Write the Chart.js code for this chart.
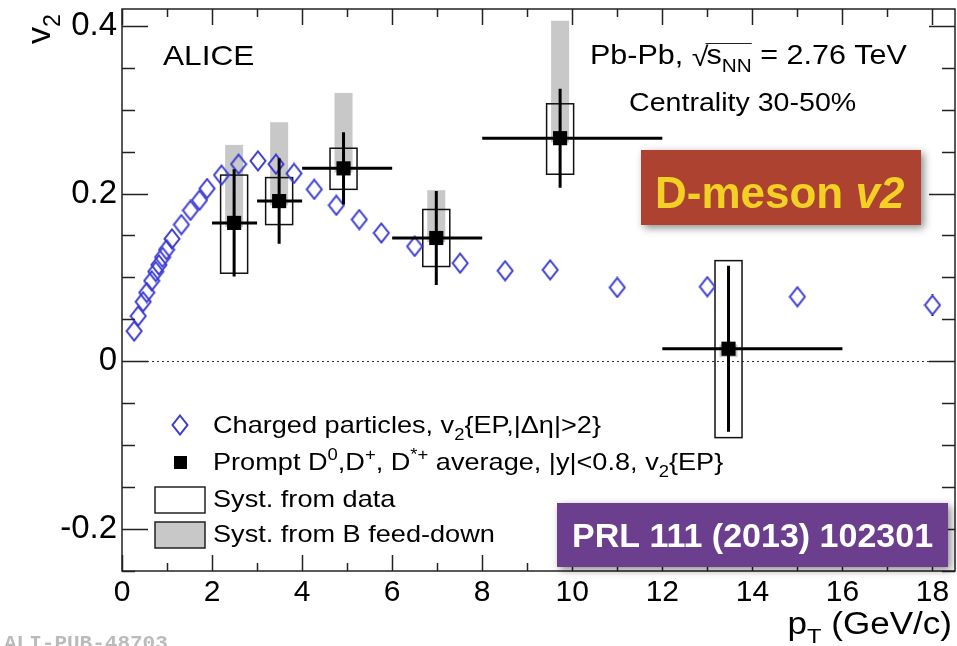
<!DOCTYPE html>
<html>
<head>
<meta charset="utf-8">
<script src="https://cdn.jsdelivr.net/npm/chart.js@4"></script>
<style>
  html, body { margin: 0; padding: 0; background: #fff; }
  #contenedor { width: 957px; height: 646px; position: relative; }
</style>
</head>
<body>
<div id="contenedor"><canvas id="grafica"></canvas></div>
<script>
// Particulas cargadas, v2{EP,|Δη|>2}
const chPt = [0.27, 0.36, 0.47, 0.55, 0.66, 0.75, 0.82, 0.90, 0.99, 1.11, 1.32, 1.52, 1.72, 1.89, 2.21, 2.59,
              3.02, 3.42, 3.82, 4.27, 4.76, 5.27, 5.76, 6.50, 7.51, 8.51, 9.51, 11.0, 13.0, 15.0, 18.0];
const chV2 = [0.036, 0.054, 0.071, 0.082, 0.096, 0.107, 0.115, 0.124, 0.133, 0.146, 0.163, 0.180, 0.192, 0.206, 0.222, 0.235,
              0.239, 0.235, 0.224, 0.205, 0.186, 0.169, 0.153, 0.137, 0.117, 0.108, 0.109, 0.088, 0.089, 0.077, 0.067];
const chErr = [0, 0, 0, 0, 0, 0, 0, 0, 0, 0, 0, 0, 0, 0, 0, 0,
               0, 0, 0, 0, 0, 0, 0, 0, 0, 0, 0, 0, 0.004, 0.011, 0.013];

// Mesones D promedio (D0, D+, D*+)
const dPt     = [2.49, 3.49, 4.92, 6.98, 9.73, 13.47];
const dPtMin  = [2, 3, 4, 6, 8, 12];
const dPtMax  = [3, 4, 6, 8, 12, 16];
const dV2     = [0.165, 0.191, 0.230, 0.147, 0.266, 0.015];
const dStat   = [0.064, 0.051, 0.043, 0.056, 0.059, 0.099];
const dSistArriba = [0.057, 0.028, 0.024, 0.034, 0.041, 0.105];
const dSistAbajo  = [0.060, 0.028, 0.025, 0.034, 0.043, 0.106];
const dFeedArriba = [0.093, 0.094, 0.090, 0.057, 0.140, 0.005];
const dFeedAbajo  = [0.005, 0.005, 0.005, 0.005, 0.005, 0.010];

// Ejes
const ejeXTicks = [0, 2, 4, 6, 8, 10, 12, 14, 16, 18];
const ejeYTicks = [-0.2, 0, 0.2, 0.4];
const ejeYEtiquetas = ['-0.2', '0', '0.2', '0.4'];

const SANS = "'Liberation Sans', Arial, sans-serif";
const AZUL = '#3b3bd4';
const ANCHO = 1.13; // estiramiento horizontal del texto

// marcador rombo abierto
const rombo = document.createElement('canvas');
rombo.width = 18; rombo.height = 22;
(function () {
  const c = rombo.getContext('2d');
  c.strokeStyle = AZUL;
  c.lineWidth = 2;
  c.beginPath();
  c.moveTo(9, 1.5); c.lineTo(16.5, 11); c.lineTo(9, 20.5); c.lineTo(1.5, 11);
  c.closePath();
  c.stroke();
})();

// escribe texto con sub/superindices; devuelve la x final
function textoRico(ctx, x, y, partes, tam, peso, sx) {
  peso = peso || '';
  sx = sx || 1;
  let cx = 0;
  ctx.save();
  ctx.translate(x, y);
  ctx.scale(sx, 1);
  partes.forEach(p => {
    const t = p[0], tipo = p[1];
    let size = tam, dy = 0;
    if (tipo === 'sub') { size = tam * 0.68; dy = tam * 0.28; }
    if (tipo === 'sup') { size = tam * 0.68; dy = -tam * 0.42; }
    ctx.font = `${peso} ${size}px ${SANS}`;
    ctx.fillText(t, cx, dy);
    cx += ctx.measureText(t).width;
  });
  ctx.restore();
  return x + cx * sx;
}

function anchoRico(ctx, partes, tam, sx) {
  let w = 0;
  partes.forEach(p => {
    ctx.font = `${(p[1] ? tam * 0.68 : tam)}px ${SANS}`;
    w += ctx.measureText(p[0]).width;
  });
  return w * (sx || 1);
}

const dibujoExtra = {
  id: 'dibujoExtra',
  beforeDatasetsDraw(chart) {
    const { ctx, chartArea: a, scales: { x, y } } = chart;
    ctx.save();
    // linea punteada en cero
    const y0 = Math.round(y.getPixelForValue(0)) + 0.5;
    ctx.strokeStyle = '#333';
    ctx.lineWidth = 1;
    ctx.setLineDash([2, 3]);
    ctx.beginPath();
    ctx.moveTo(a.left, y0);
    ctx.lineTo(a.right, y0);
    ctx.stroke();
    ctx.setLineDash([]);

    // sistematica por B feed-down (gris)
    ctx.fillStyle = '#c8c8c8';
    dPt.forEach((pt, i) => {
      const x0 = x.getPixelForValue(pt - 0.2), x1 = x.getPixelForValue(pt + 0.2);
      const ya = y.getPixelForValue(dV2[i] + dFeedArriba[i]);
      const yb = y.getPixelForValue(dV2[i] - dFeedAbajo[i]);
      ctx.fillRect(x0, ya, x1 - x0, yb - ya);
    });

    // sistematica de datos (caja abierta)
    ctx.strokeStyle = '#111';
    ctx.lineWidth = 1.5;
    dPt.forEach((pt, i) => {
      const x0 = x.getPixelForValue(pt - 0.3), x1 = x.getPixelForValue(pt + 0.3);
      const ya = y.getPixelForValue(dV2[i] + dSistArriba[i]);
      const yb = y.getPixelForValue(dV2[i] - dSistAbajo[i]);
      ctx.strokeRect(x0, ya, x1 - x0, yb - ya);
    });
    ctx.restore();
  },
  afterDatasetDraw(chart, args) {
    if (args.index !== 0) return;
    const { ctx, scales: { x, y } } = chart;
    ctx.save();
    // errores de particulas cargadas (fuera del rombo)
    ctx.strokeStyle = '#222';
    ctx.lineWidth = 2;
    chPt.forEach((pt, i) => {
      if (!chErr[i]) return;
      const px = x.getPixelForValue(pt), pc = y.getPixelForValue(chV2[i]);
      const pa = y.getPixelForValue(chV2[i] + chErr[i]), pb = y.getPixelForValue(chV2[i] - chErr[i]);
      if (pc - pa > 10) {
        ctx.beginPath();
        ctx.moveTo(px, pa); ctx.lineTo(px, pc - 10);
        ctx.moveTo(px, pc + 10); ctx.lineTo(px, pb);
        ctx.stroke();
      }
    });
    // barras de error de los mesones D
    ctx.strokeStyle = '#000';
    ctx.lineWidth = 3;
    dPt.forEach((pt, i) => {
      const px = x.getPixelForValue(pt), py = y.getPixelForValue(dV2[i]);
      ctx.beginPath();
      ctx.moveTo(x.getPixelForValue(dPtMin[i]), py);
      ctx.lineTo(x.getPixelForValue(dPtMax[i]), py);
      ctx.moveTo(px, y.getPixelForValue(dV2[i] + dStat[i]));
      ctx.lineTo(px, y.getPixelForValue(dV2[i] - dStat[i]));
      ctx.stroke();
    });
    ctx.restore();
  },
  afterDraw(chart) {
    const { ctx, chartArea: a, scales: { x, y } } = chart;
    ctx.save();

    // marco y marcas hacia adentro
    ctx.strokeStyle = '#222';
    ctx.lineWidth = 1.5;
    ctx.strokeRect(a.left, a.top, a.right - a.left, a.bottom - a.top);
    ctx.beginPath();
    for (let k = 0; k <= 18; k++) {
      const px = Math.round(x.getPixelForValue(k)) + 0.5;
      const l = k % 2 === 0 ? 16 : 8;
      ctx.moveTo(px, a.bottom); ctx.lineTo(px, a.bottom - l);
      ctx.moveTo(px, a.top); ctx.lineTo(px, a.top + l);
    }
    for (let k = -5; k <= 8; k++) {
      const py = Math.round(y.getPixelForValue(k * 0.05)) + 0.5;
      const l = k % 4 === 0 ? 26 : 13;
      ctx.moveTo(a.left, py); ctx.lineTo(a.left + l, py);
      ctx.moveTo(a.right, py); ctx.lineTo(a.right - l, py);
    }
    ctx.stroke();

    ctx.fillStyle = '#000';
    ctx.textBaseline = 'alphabetic';
    ctx.textAlign = 'left';

    // titulo eje y
    ctx.save();
    ctx.translate(50, 44);
    ctx.rotate(-Math.PI / 2);
    textoRico(ctx, 0, 0, [['v'], ['2', 'sub']], 34);
    ctx.restore();

    // titulo eje x
    const partesX = [['p'], ['T', 'sub'], [' (GeV/c)']];
    textoRico(ctx, 952 - anchoRico(ctx, partesX, 31, ANCHO), 634, partesX, 31, '', ANCHO);

    // etiquetas
    textoRico(ctx, 163, 65, [['ALICE']], 28, '', ANCHO);
    let cx = textoRico(ctx, 590, 64, [['Pb-Pb, ']], 27, '', ANCHO);
    cx = textoRico(ctx, cx, 66, [['\u221A']], 27, '', ANCHO) - 2;
    const fin = textoRico(ctx, cx, 64, [['s'], ['NN', 'sub']], 27, '', ANCHO);
    ctx.lineWidth = 1.2;
    ctx.beginPath();
    ctx.moveTo(cx - 1, 43.5); ctx.lineTo(fin, 43.5);
    ctx.stroke();
    textoRico(ctx, fin, 64, [[' = 2.76 TeV']], 27, '', ANCHO);
    textoRico(ctx, 629, 111, [['Centrality 30-50%']], 25.3, '', ANCHO);

    // leyenda
    ctx.drawImage(rombo, 180 - 9, 425 - 11);
    ctx.fillRect(174, 456, 13, 13);
    ctx.strokeStyle = '#222';
    ctx.lineWidth = 1.5;
    ctx.strokeRect(155, 487, 50, 26);
    ctx.fillStyle = '#c8c8c8';
    ctx.fillRect(155, 522, 50, 26);
    ctx.strokeRect(155, 522, 50, 26);
    ctx.fillStyle = '#000';
    textoRico(ctx, 213, 433, [['Charged particles, v'], ['2', 'sub'], ['{EP,|\u0394\u03B7|>2}']], 24, '', ANCHO);
    textoRico(ctx, 213, 470, [['Prompt D'], ['0', 'sup'], [',D'], ['+', 'sup'], [', D'], ['*+', 'sup'],
                              [' average, |y|<0.8, v'], ['2', 'sub'], ['{EP}']], 24, '', ANCHO);
    textoRico(ctx, 213, 507, [['Syst. from data']], 24, '', ANCHO);
    textoRico(ctx, 213, 542, [['Syst. from B feed-down']], 24, '', ANCHO);

    // recuadros
    ctx.save();
    ctx.shadowColor = 'rgba(0,0,0,0.45)';
    ctx.shadowBlur = 8;
    ctx.shadowOffsetX = 3;
    ctx.shadowOffsetY = 3;
    ctx.fillStyle = '#ad4230';
    ctx.fillRect(641, 150, 280, 75);
    ctx.fillStyle = '#6c3e8e';
    ctx.fillRect(557, 503, 391, 64);
    ctx.restore();

    ctx.fillStyle = '#f3d024';
    const m = textoRico(ctx, 655, 208, [['D-meson ']], 44, 'bold');
    textoRico(ctx, m, 208, [['v2']], 44, 'italic bold');
    ctx.fillStyle = '#fff';
    textoRico(ctx, 572, 547, [['PRL 111 (2013) 102301']], 34, 'bold');

    // identificador de la figura
    ctx.fillStyle = '#bbbbbb';
    ctx.font = `bold 21px 'Liberation Mono', monospace`;
    ctx.fillText('ALI-PUB-48703', 4, 649);
    ctx.restore();
  }
};

const ctx = document.getElementById('grafica').getContext('2d');
new Chart(ctx, {
  type: 'scatter',
  data: {
    datasets: [
      {
        label: 'Charged particles',
        data: chPt.map((pt, i) => ({ x: pt, y: chV2[i] })),
        pointStyle: rombo,
        pointRadius: 9,
        order: 2
      },
      {
        label: 'Prompt D average',
        data: dPt.map((pt, i) => ({ x: pt, y: dV2[i] })),
        pointStyle: 'rect',
        pointRadius: 10,
        backgroundColor: '#000',
        borderColor: '#000',
        borderWidth: 0,
        order: 1
      }
    ]
  },
  options: {
    responsive: true,
    maintainAspectRatio: false,
    animation: false,
    devicePixelRatio: 1,
    layout: { autoPadding: false, padding: { top: 9, right: 2, left: 0, bottom: 0 } },
    plugins: {
      legend: { display: false },
      tooltip: { enabled: false }
    },
    scales: {
      x: {
        type: 'linear',
        min: 0,
        max: 18.5,
        afterBuildTicks: s => { s.ticks = ejeXTicks.map(v => ({ value: v })); },
        afterFit: s => { s.height = 75; s.paddingLeft = 0; s.paddingRight = 0; },
        grid: { display: false, drawTicks: false },
        border: { display: false },
        ticks: {
          autoSkip: false,
          maxRotation: 0,
          padding: 4,
          color: '#000',
          font: { family: SANS, size: 30 }
        }
      },
      y: {
        type: 'linear',
        min: -0.25,
        max: 0.42,
        afterBuildTicks: s => { s.ticks = ejeYTicks.map(v => ({ value: v })); },
        afterFit: s => { s.width = 122; s.paddingTop = 0; s.paddingBottom = 0; },
        grid: { display: false, drawTicks: false },
        border: { display: false },
        ticks: {
          padding: 5,
          color: '#000',
          font: { family: SANS, size: 33 },
          callback: (v, i) => ejeYEtiquetas[i]
        }
      }
    }
  },
  plugins: [dibujoExtra]
});
</script>
</body>
</html>
